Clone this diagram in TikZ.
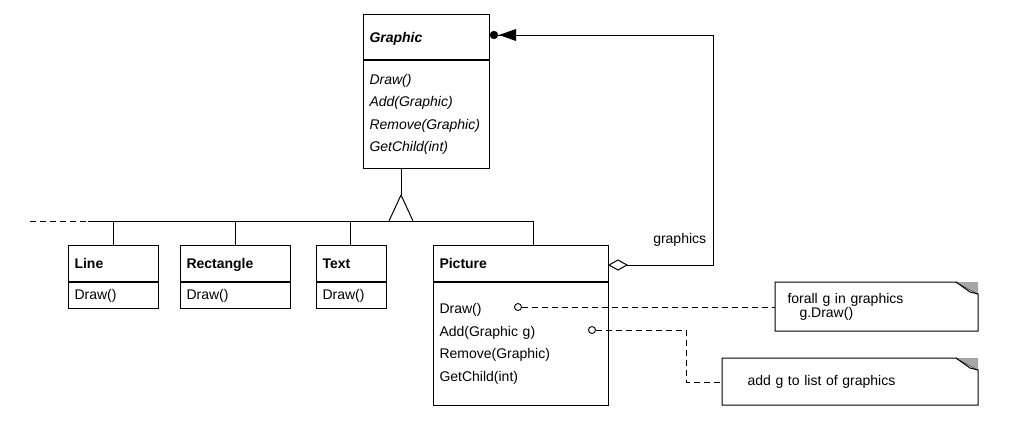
\documentclass[tikz,border=0pt]{standalone}
\usepackage{fontspec}
\setmainfont{Liberation Sans}
\usetikzlibrary{arrows.meta,positioning,calc,patterns}
\tikzset{
    hdr/.style = {draw, rectangle, anchor=north west, inner sep=0pt,
        font=\fontsize{14}{16}\selectfont\bfseries, align=left, text depth=0pt},
    ops/.style = {draw, rectangle, anchor=north west, inner sep=0pt,
        font=\fontsize{14}{22.5}\selectfont, align=left},
    link/.style = {draw, line width=1pt},
    note/.style = {draw, dashed, line width=1pt, dash pattern=on 6pt off 4pt},
    dot/.style = {draw, circle, fill=white, inner sep=0pt, minimum size=7pt, line width=0.9pt}
}
\begin{document}
\begin{tikzpicture}[x=1pt,y=-1pt,line width=1pt]
\useasboundingbox (0,0) rectangle (1031,421);
% Graphic (abstract)
\node[hdr, minimum width=126pt, minimum height=45pt, text width=114pt] (graphic) at (363,14) {\itshape Graphic};
\node[ops, minimum width=126pt, minimum height=108pt, text width=114pt] (graphicops) at (graphic.south west)
    {\itshape Draw()\\\itshape Add(Graphic)\\\itshape Remove(Graphic)\\\itshape GetChild(int)\\[-4pt]};
% leaves
\node[hdr, minimum width=90pt, minimum height=36pt, text width=78pt] (line) at (68,245) {Line};
\node[ops, minimum width=90pt, minimum height=26pt, text width=78pt] (lineops) at (line.south west) {Draw()};
\node[hdr, minimum width=110pt, minimum height=36pt, text width=98pt] (rect) at (180,245) {Rectangle};
\node[ops, minimum width=110pt, minimum height=26pt, text width=98pt] (rectops) at (rect.south west) {Draw()};
\node[hdr, minimum width=70pt, minimum height=36pt, text width=58pt] (text) at (316,245) {Text};
\node[ops, minimum width=70pt, minimum height=26pt, text width=58pt] (textops) at (text.south west) {Draw()};
\node[hdr, minimum width=175pt, minimum height=36pt, text width=163pt] (picture) at (433,245) {Picture};
\node[ops, minimum width=175pt, minimum height=123pt, text width=163pt] (pictureops) at (picture.south west)
    {Draw()\\Add(Graphic g)\\Remove(Graphic)\\GetChild(int)};
% inheritance
\coordinate (apex) at (401,195);
\coordinate (busL) at (30,221);
\coordinate (busM) at (88,221);
\coordinate (busR) at (533,221);
\draw (graphicops.south -| apex) -- (apex);
\draw (apex) -- (389,221) (apex) -- (413,221);
\draw[dashed, dash pattern=on 6pt off 4pt] (busL) -- (busM);
\draw (busM) -- (busR);
\foreach \c/\x in {line/113,rect/235,text/350,picture/533}
    \draw (\x,221) -- (\c.north -| {(\x,0)});
% aggregation
\coordinate (turn1) at (713,265);
\coordinate (turn2) at (713,35);
\draw (picture.east |- turn1) ++(0,0) coordinate (dstart);
\draw[fill=white] (dstart) -- ++(9,-5) -- ++(9,5) -- ++(-9,5) -- cycle;
\draw ($(dstart)+(18,0)$) -- (turn1) -- (turn2) -- (graphic.east |- turn2);
\fill (graphic.east |- turn2) ++(4,0) circle (4.2);
\fill (graphic.east |- turn2) ++(9,0) -- ++(17,-6) -- ++(0,12) -- cycle;
\node[font=\fontsize{14}{16}\selectfont, anchor=south east] (glabel) at (710,250) {graphics};
% notes
\node[font=\fontsize{14}{14}\selectfont, align=left, anchor=north west, minimum width=202pt, minimum height=48pt, text width=190pt, inner sep=0pt] (note1) at (775,282) {\hspace*{6pt}forall g in graphics\\\hspace*{18pt}g.Draw()};
\node[font=\fontsize{14}{16}\selectfont, align=left, anchor=north west, minimum width=255pt, minimum height=46pt, text width=245pt, inner sep=0pt] (note2) at (722,358) {\hspace*{20pt}add g to list of graphics};
\foreach \n in {note1,note2} {
    \draw (\n.north west) -- ($(\n.north east)+(-22,0)$) -- ($(\n.north east)+(0,12)$) -- (\n.south east) -- (\n.south west) -- cycle;
    \fill[gray!70] ($(\n.north east)+(-22,0)$) -- (\n.north east) -- ($(\n.north east)+(0,12)$) -- cycle;
    \draw ($(\n.north east)+(-22,0)$) -- ($(\n.north east)+(-8,10)$) -- ($(\n.north east)+(0,12)$);
}
\node[dot] (d1) at (518,307) {};
\node[dot] (d2) at (592,330) {};
\draw[note] (d1) -- (d1 -| note1.west);
\coordinate (bend1) at (686,330);
\coordinate (bend2) at (686,382);
\draw[note] (d2) -- (bend1) -- (bend2) -- (bend2 -| note2.west);
\end{tikzpicture}
\end{document}
